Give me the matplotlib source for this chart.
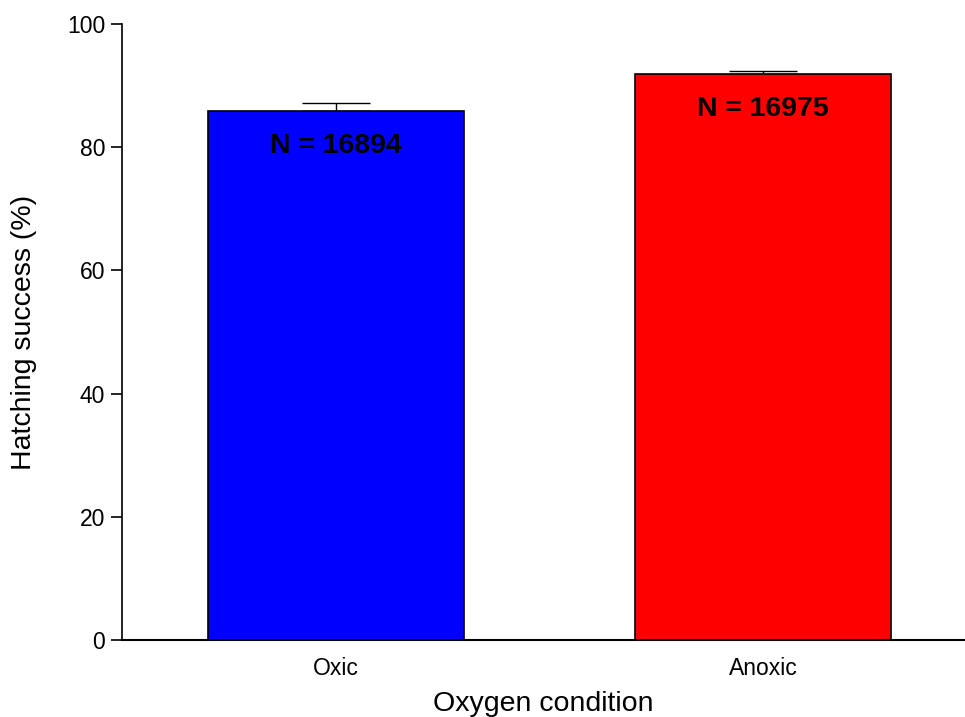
import matplotlib
matplotlib.use("Agg")
import matplotlib.pyplot as plt

plt.rcParams['font.family'] = ['Liberation Sans', 'DejaVu Sans']

# hatching success by oxygen condition
conditions = ['Oxic', 'Anoxic']
success = [85.9, 91.9]
sem = [1.2, 0.5]
n_eggs = [16894, 16975]
colors = ['#0000ff', '#ff0000']

fig = plt.figure(figsize=(9.65, 7.17), dpi=100)
ax = fig.add_axes([0.1264, 0.1074, 0.8736, 0.8591])

x = range(len(conditions))
ax.bar(x, success, width=0.6, color=colors, edgecolor='black', linewidth=1.2, zorder=2)
ax.errorbar(x, success, yerr=[[0, 0], sem], fmt='none', ecolor='black',
            elinewidth=1.0, capsize=24.5, capthick=1.0, zorder=1)

for xi, val, n in zip(x, success, n_eggs):
    ax.text(xi, val - 3.6, f'N = {n}', ha='center', va='top',
            fontsize=20.5, fontweight='bold', zorder=3)

ax.set_xlim(-0.501, 1.473)
ax.set_ylim(0, 100)
ax.set_yticks([0, 20, 40, 60, 80, 100])
ax.set_xticks(list(x))
ax.set_xticklabels(conditions)
ax.tick_params(axis='x', length=0, pad=12, labelsize=16.5)
ax.tick_params(axis='y', direction='out', length=8, width=1.2, pad=4, labelsize=16.5)

ax.spines['top'].set_visible(False)
ax.spines['right'].set_visible(False)
ax.spines['left'].set_linewidth(1.2)
ax.spines['bottom'].set_linewidth(1.5)

ax.set_xlabel('Oxygen condition', fontsize=20.5, labelpad=8)
ax.set_ylabel('Hatching success (%)', fontsize=20.5, labelpad=22)

fig.savefig('out.png', dpi=100)
